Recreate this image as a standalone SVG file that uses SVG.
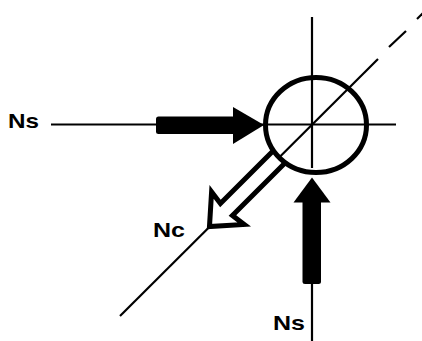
<svg xmlns="http://www.w3.org/2000/svg" width="422" height="341" viewBox="0 0 422 341">
<style>
.thin{stroke:#000;stroke-width:2.2;fill:none;stroke-linecap:butt}
.lbl{font-family:"Liberation Sans",Arial,sans-serif;font-weight:bold;font-size:21px;fill:#000}
.solid{fill:#000;stroke:none}
</style>
<rect width="422" height="341" fill="#fff"/>
<g id="connectors">
  <line class="thin" x1="51" y1="124.5" x2="396" y2="124.5"/>
  <line class="thin" x1="312" y1="17" x2="312" y2="168"/>
  <line class="thin" x1="312" y1="283" x2="312" y2="341"/>
  <line class="thin" x1="120" y1="316" x2="378" y2="59"/>
  <line class="thin" x1="389" y1="47" x2="406" y2="31"/>
  <line class="thin" x1="417" y1="19" x2="424" y2="12"/>
  <g id="arrow-nc" transform="translate(312,124) rotate(135)">
    <path d="M46,-8.5 L121,-8.5 L119,-23 L145,0 L119,23 L121,8.5 L46,8.5" fill="#fff" stroke="#000" stroke-width="5" stroke-linejoin="miter"/>
  </g>
  <g id="arrow-ns-left">
    <rect class="solid" x="156" y="116.5" width="79" height="17.5" rx="2.5"/>
    <polygon class="solid" points="233,107 264,125 233,144"/>
  </g>
  <g id="arrow-ns-bottom">
    <rect class="solid" x="302.5" y="199" width="18.5" height="85" rx="2.5"/>
    <polygon class="solid" points="293.5,202.5 312,177.5 330.5,202.5"/>
  </g>
</g>
<g id="joint">
  <ellipse cx="316" cy="125" rx="50.5" ry="47.5" fill="none" stroke="#000" stroke-width="5"/>
</g>
<g id="label-ns-left"><text class="lbl" x="8" y="127.5" textLength="31" lengthAdjust="spacingAndGlyphs">Ns</text></g>
<g id="label-nc"><text class="lbl" x="153" y="236.5" textLength="32" lengthAdjust="spacingAndGlyphs">Nc</text></g>
<g id="label-ns-bottom"><text class="lbl" x="273" y="330" textLength="32" lengthAdjust="spacingAndGlyphs">Ns</text></g>
</svg>
